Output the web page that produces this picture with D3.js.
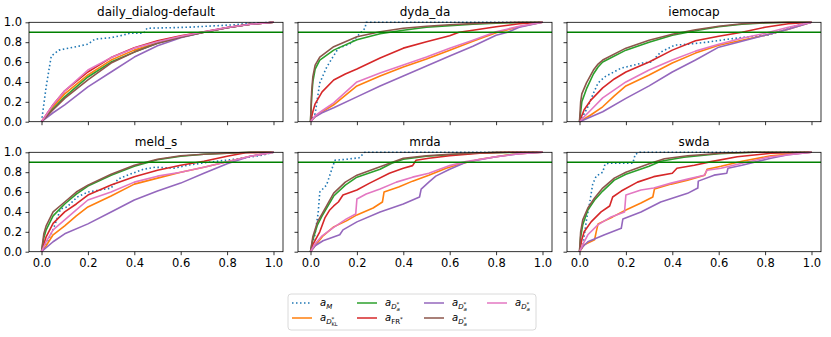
<!DOCTYPE html>
<html><head><meta charset="utf-8">
<script src="https://cdn.jsdelivr.net/npm/d3@7"></script>
<style>body{margin:0;background:#fff} text{font-family:"DejaVu Sans",sans-serif}</style>
</head><body><svg id="c" width="831" height="337"></svg>
<script>
// ---- data ----
const datasets = ["daily_dialog-default","dyda_da","iemocap","meld_s","mrda","swda"];
const xTicks = [0,0.2,0.4,0.6,0.8,1.0];
const yTicks = [0,0.2,0.4,0.6,0.8,1.0];
const threshold = 0.9;

// each series: one [x,y] list per dataset (same order as datasets)
const aM = [
 [[0,0],[0.02,0.35],[0.042,0.66],[0.075,0.72],[0.15,0.755],[0.2,0.78],[0.23,0.83],[0.3,0.845],[0.35,0.87],[0.38,0.89],[0.44,0.89],[0.455,0.94],[0.63,0.95],[0.83,0.975],[0.89,0.99],[1,1]],
 [[0,0],[0.02,0.08],[0.04,0.39],[0.07,0.55],[0.12,0.74],[0.176,0.79],[0.2,0.855],[0.235,0.94],[0.24,1],[1,1]],
 [[0,0],[0.02,0.08],[0.036,0.15],[0.057,0.27],[0.08,0.39],[0.108,0.45],[0.18,0.54],[0.2,0.55],[0.27,0.59],[0.31,0.6],[0.35,0.7],[0.41,0.77],[0.47,0.78],[0.55,0.8],[0.64,0.83],[0.71,0.85],[0.81,0.87],[0.88,0.92],[0.94,0.97],[1,1]],
 [[0,0],[0.03,0.12],[0.053,0.24],[0.082,0.43],[0.11,0.45],[0.154,0.55],[0.2,0.6],[0.3,0.64],[0.33,0.73],[0.37,0.77],[0.44,0.83],[0.49,0.85],[0.57,0.84],[0.63,0.87],[0.72,0.9],[0.83,0.93],[0.95,0.97],[1,1]],
 [[0,0],[0.019,0.17],[0.033,0.39],[0.04,0.6],[0.069,0.67],[0.105,0.92],[0.155,0.93],[0.21,0.945],[0.234,1],[1,1]],
 [[0,0],[0.014,0.05],[0.03,0.32],[0.043,0.48],[0.057,0.68],[0.072,0.76],[0.1,0.8],[0.11,0.88],[0.125,0.89],[0.23,0.89],[0.24,0.98],[0.26,1],[1,1]]
];
const aDKL = [
 [[0,0],[0.05,0.15],[0.1,0.28],[0.2,0.47],[0.3,0.62],[0.4,0.72],[0.5,0.795],[0.6,0.855],[0.7,0.9],[0.8,0.945],[0.9,0.98],[1,1]],
 [[0,0],[0.02,0.05],[0.05,0.1],[0.1,0.17],[0.2,0.36],[0.3,0.46],[0.4,0.55],[0.5,0.63],[0.6,0.72],[0.7,0.81],[0.8,0.895],[0.9,0.955],[1,1]],
 [[0,0],[0.05,0.07],[0.1,0.15],[0.15,0.26],[0.2,0.36],[0.3,0.47],[0.4,0.59],[0.5,0.69],[0.6,0.77],[0.7,0.82],[0.8,0.87],[0.9,0.93],[1,1]],
 [[0,0],[0.02,0.06],[0.05,0.17],[0.1,0.26],[0.15,0.36],[0.2,0.45],[0.3,0.56],[0.4,0.68],[0.5,0.74],[0.6,0.8],[0.7,0.85],[0.8,0.905],[0.9,0.96],[1,1]],
 [[0,0],[0.02,0.06],[0.054,0.16],[0.1,0.25],[0.155,0.31],[0.2,0.37],[0.27,0.44],[0.31,0.5],[0.317,0.6],[0.38,0.65],[0.44,0.71],[0.51,0.77],[0.585,0.84],[0.64,0.88],[0.73,0.93],[0.87,0.98],[1,1]],
 [[0,0],[0.02,0.07],[0.065,0.12],[0.072,0.2],[0.08,0.28],[0.143,0.35],[0.2,0.42],[0.265,0.49],[0.316,0.55],[0.323,0.63],[0.395,0.68],[0.466,0.72],[0.54,0.77],[0.55,0.83],[0.61,0.86],[0.7,0.91],[0.825,0.965],[1,1]]
];
const aDa1 = [
 [[0,0],[0.05,0.13],[0.1,0.25],[0.2,0.45],[0.3,0.6],[0.4,0.7],[0.5,0.79],[0.6,0.85],[0.7,0.9],[0.8,0.945],[0.9,0.98],[1,1]],
 [[0,0],[0.005,0.25],[0.01,0.4],[0.02,0.53],[0.04,0.62],[0.1,0.72],[0.2,0.825],[0.3,0.885],[0.4,0.92],[0.5,0.95],[0.6,0.967],[0.7,0.98],[0.8,0.99],[0.9,0.998],[1,1]],
 [[0,0],[0.01,0.2],[0.03,0.33],[0.06,0.48],[0.08,0.55],[0.1,0.6],[0.2,0.72],[0.3,0.8],[0.4,0.87],[0.5,0.915],[0.6,0.955],[0.7,0.98],[0.8,0.993],[0.9,1],[1,1]],
 [[0,0],[0.01,0.14],[0.02,0.22],[0.05,0.36],[0.1,0.48],[0.15,0.58],[0.2,0.66],[0.3,0.77],[0.4,0.86],[0.5,0.925],[0.6,0.96],[0.7,0.98],[0.8,0.99],[0.9,1],[1,1]],
 [[0,0],[0.01,0.12],[0.03,0.27],[0.05,0.36],[0.1,0.56],[0.15,0.67],[0.2,0.75],[0.3,0.83],[0.35,0.89],[0.4,0.93],[0.5,0.96],[0.6,0.975],[0.7,0.99],[0.8,0.997],[1,1]],
 [[0,0],[0.005,0.15],[0.014,0.27],[0.036,0.42],[0.065,0.52],[0.1,0.61],[0.15,0.72],[0.2,0.78],[0.3,0.86],[0.35,0.91],[0.45,0.95],[0.6,0.985],[0.75,1],[1,1]]
];
const aFR = [
 [[0,0],[0.05,0.17],[0.1,0.31],[0.2,0.5],[0.3,0.645],[0.4,0.745],[0.5,0.815],[0.6,0.865],[0.7,0.905],[0.8,0.948],[0.9,0.98],[1,1]],
 [[0,0],[0.01,0.1],[0.02,0.18],[0.05,0.3],[0.1,0.42],[0.15,0.48],[0.2,0.53],[0.3,0.64],[0.4,0.74],[0.5,0.805],[0.6,0.865],[0.64,0.9],[0.7,0.92],[0.8,0.956],[0.9,0.985],[1,1]],
 [[0,0],[0.02,0.12],[0.05,0.22],[0.1,0.34],[0.15,0.43],[0.2,0.5],[0.3,0.6],[0.4,0.72],[0.5,0.815],[0.6,0.86],[0.7,0.9],[0.8,0.95],[0.9,0.985],[1,1]],
 [[0,0],[0.02,0.15],[0.05,0.285],[0.1,0.4],[0.15,0.48],[0.2,0.57],[0.3,0.67],[0.4,0.755],[0.5,0.82],[0.6,0.87],[0.7,0.91],[0.8,0.96],[0.88,0.995],[1,1]],
 [[0,0],[0.01,0.07],[0.04,0.2],[0.062,0.34],[0.083,0.42],[0.1,0.46],[0.12,0.5],[0.14,0.57],[0.2,0.62],[0.255,0.69],[0.34,0.79],[0.4,0.84],[0.44,0.866],[0.455,0.92],[0.51,0.94],[0.6,0.966],[0.73,0.99],[0.85,1],[1,1]],
 [[0,0],[0.01,0.12],[0.02,0.2],[0.05,0.3],[0.093,0.4],[0.13,0.46],[0.143,0.55],[0.18,0.61],[0.25,0.7],[0.32,0.755],[0.4,0.79],[0.42,0.84],[0.495,0.87],[0.567,0.906],[0.68,0.956],[0.825,0.99],[1,1]]
];
const aDa2 = [
 [[0,0],[0.05,0.09],[0.1,0.17],[0.2,0.35],[0.3,0.5],[0.4,0.65],[0.5,0.765],[0.6,0.845],[0.7,0.9],[0.8,0.945],[0.9,0.98],[1,1]],
 [[0,0],[0.02,0.05],[0.05,0.09],[0.1,0.14],[0.2,0.25],[0.3,0.36],[0.4,0.46],[0.5,0.56],[0.6,0.66],[0.7,0.76],[0.8,0.87],[0.85,0.9],[0.9,0.95],[1,1]],
 [[0,0],[0.05,0.05],[0.1,0.1],[0.2,0.235],[0.3,0.36],[0.4,0.5],[0.5,0.62],[0.6,0.75],[0.7,0.81],[0.8,0.87],[0.9,0.93],[1,1]],
 [[0,0],[0.05,0.1],[0.1,0.18],[0.2,0.28],[0.3,0.4],[0.4,0.52],[0.5,0.61],[0.6,0.69],[0.7,0.79],[0.8,0.885],[0.9,0.96],[1,1]],
 [[0,0],[0.02,0.06],[0.054,0.11],[0.126,0.17],[0.14,0.22],[0.2,0.3],[0.3,0.4],[0.4,0.48],[0.47,0.55],[0.477,0.63],[0.51,0.7],[0.54,0.76],[0.6,0.83],[0.67,0.9],[0.8,0.955],[0.9,0.985],[1,1]],
 [[0,0],[0.01,0.04],[0.036,0.1],[0.108,0.17],[0.18,0.235],[0.187,0.33],[0.265,0.4],[0.35,0.5],[0.466,0.587],[0.51,0.64],[0.512,0.71],[0.58,0.77],[0.635,0.79],[0.64,0.84],[0.7,0.87],[0.825,0.94],[0.9,0.975],[1,1]]
];
const aDa3 = [
 [[0,0],[0.05,0.12],[0.1,0.235],[0.2,0.42],[0.3,0.59],[0.4,0.7],[0.5,0.79],[0.6,0.85],[0.7,0.9],[0.8,0.945],[0.9,0.98],[1,1]],
 [[0,0],[0.005,0.3],[0.01,0.45],[0.02,0.57],[0.04,0.65],[0.1,0.755],[0.2,0.855],[0.3,0.905],[0.4,0.94],[0.5,0.96],[0.6,0.975],[0.7,0.987],[0.8,0.995],[0.9,1],[1,1]],
 [[0,0],[0.005,0.2],[0.01,0.28],[0.03,0.39],[0.06,0.52],[0.08,0.58],[0.1,0.62],[0.2,0.74],[0.3,0.82],[0.4,0.88],[0.5,0.925],[0.6,0.96],[0.7,0.985],[0.8,0.997],[0.9,1],[1,1]],
 [[0,0],[0.01,0.18],[0.02,0.26],[0.05,0.4],[0.1,0.5],[0.15,0.6],[0.2,0.67],[0.3,0.78],[0.4,0.87],[0.5,0.93],[0.6,0.965],[0.7,0.98],[0.8,0.99],[0.9,1],[1,1]],
 [[0,0],[0.01,0.15],[0.03,0.3],[0.05,0.38],[0.1,0.59],[0.15,0.7],[0.2,0.77],[0.3,0.855],[0.4,0.94],[0.5,0.965],[0.6,0.98],[0.7,0.99],[0.8,1],[1,1]],
 [[0,0],[0.005,0.2],[0.014,0.32],[0.036,0.44],[0.065,0.54],[0.1,0.64],[0.15,0.74],[0.2,0.8],[0.3,0.885],[0.366,0.935],[0.466,0.965],[0.61,0.99],[0.75,1],[1,1]]
];
const aDa4 = [
 [[0,0],[0.05,0.17],[0.1,0.31],[0.2,0.52],[0.3,0.645],[0.4,0.74],[0.5,0.805],[0.6,0.86],[0.7,0.905],[0.8,0.948],[0.9,0.98],[1,1]],
 [[0,0],[0.02,0.06],[0.05,0.11],[0.1,0.19],[0.2,0.4],[0.3,0.49],[0.4,0.57],[0.5,0.65],[0.6,0.74],[0.7,0.82],[0.8,0.905],[0.9,0.96],[1,1]],
 [[0,0],[0.02,0.05],[0.05,0.12],[0.1,0.24],[0.2,0.4],[0.3,0.52],[0.4,0.62],[0.5,0.71],[0.6,0.78],[0.7,0.84],[0.8,0.89],[0.9,0.95],[1,1]],
 [[0,0],[0.02,0.1],[0.05,0.22],[0.1,0.32],[0.15,0.42],[0.2,0.52],[0.3,0.6],[0.4,0.7],[0.5,0.76],[0.6,0.8],[0.7,0.85],[0.8,0.905],[0.9,0.96],[1,1]],
 [[0,0],[0.02,0.08],[0.05,0.16],[0.097,0.24],[0.155,0.33],[0.195,0.38],[0.2,0.53],[0.24,0.58],[0.3,0.63],[0.37,0.7],[0.44,0.75],[0.51,0.79],[0.6,0.866],[0.67,0.906],[0.8,0.956],[0.9,0.985],[1,1]],
 [[0,0],[0.02,0.1],[0.036,0.17],[0.079,0.27],[0.136,0.35],[0.194,0.4],[0.2,0.57],[0.265,0.62],[0.32,0.64],[0.395,0.69],[0.466,0.73],[0.538,0.77],[0.55,0.82],[0.61,0.84],[0.7,0.89],[0.825,0.956],[1,1]]
];
const seriesData = [aM, aDKL, aDa1, aFR, aDa2, aDa3, aDa4];

// ---- styles ----
const colors = ["#1f77b4","#ff7f0e","#2ca02c","#d62728","#9467bd","#8c564b","#e377c2"];
const dashes = ["1.5,2.5",null,null,null,null,null,null];
// legend label parts: [text, fontSize, yOffset, italic, dx]
const legendLabels = [
  [["a",10,0,1],["M",7,2.5,1]],
  [["a",10,0,1],["D",7,2.5,1],["*",5.5,-0.5,0],["KL",5,4.5,0,-2.8]],
  [["a",10,0,1],["D",7,2.5,1],["*",5.5,-0.5,0],["a",5.5,4.5,1,-2.8]],
  [["a",10,0,1],["FR",7,2.5,0],["*",5.5,-0.5,0]],
  [["a",10,0,1],["D",7,2.5,1],["*",5.5,-0.5,0],["a",5.5,4.5,1,-2.8]],
  [["a",10,0,1],["D",7,2.5,1],["*",5.5,-0.5,0],["a",5.5,4.5,1,-2.8]],
  [["a",10,0,1],["D",7,2.5,1],["*",5.5,-0.5,0],["a",5.5,4.5,1,-2.8]]
];

const svg = d3.select("#c");
const colL = [29, 298, 567], W = 254;
const rowT = [22.3, 152.3], H = 99.4;
const fmt = d3.format(".1f");

datasets.forEach((name, i) => {
  const col = i % 3, row = Math.floor(i / 3);
  const L = colL[col], T = rowT[row];
  const x = d3.scaleLinear().domain([-0.0539, 1.041]).range([L, L + W]);
  const y = d3.scaleLinear().domain([0, 1]).range([T + H, T]);
  const g = svg.append("g");

  const line = d3.line().x(d => x(d[0])).y(d => y(d[1]));
  seriesData.forEach((s, k) => {
    g.append("path").datum(s[i]).attr("d", line)
      .attr("fill", "none").attr("stroke", colors[k]).attr("stroke-width", 1.6)
      .attr("stroke-dasharray", dashes[k]).attr("stroke-linejoin", "round");
  });
  g.append("line").attr("x1", L).attr("x2", L + W).attr("y1", y(threshold)).attr("y2", y(threshold))
    .attr("stroke", "#008000").attr("stroke-width", 1.5);

  const xa = d3.axisBottom(x).tickValues(xTicks).tickSize(3.5).tickPadding(3.5)
    .tickFormat(row === 1 ? fmt : () => "");
  const ya = d3.axisLeft(y).tickValues(yTicks).tickSize(3.5).tickPadding(3.5)
    .tickFormat(col === 0 ? fmt : () => "");
  [g.append("g").attr("transform", `translate(0,${T + H})`).call(xa),
   g.append("g").attr("transform", `translate(${L},0)`).call(ya)].forEach(a => {
    a.select(".domain").remove();
    a.selectAll("line").attr("stroke", "#000").attr("stroke-width", 0.8);
    a.selectAll("text").attr("font-size", 11.5).attr("fill", "#000").attr("font-family", "DejaVu Sans");
  });
  g.append("rect").attr("x", L).attr("y", T).attr("width", W).attr("height", H)
    .attr("fill", "none").attr("stroke", "#000").attr("stroke-width", 0.8);
  g.append("text").attr("x", L + W / 2).attr("y", T - 6).attr("text-anchor", "middle")
    .attr("font-size", 12).attr("fill", "#000").text(name);
});

// legend
const lg = svg.append("g");
lg.append("rect").attr("x", 288).attr("y", 294).attr("width", 248).attr("height", 36)
  .attr("rx", 3).attr("fill", "#fff").attr("stroke", "#d0d0d0").attr("stroke-width", 0.8);
const hx = [292, 357, 424, 487], ry = [303, 318];
legendLabels.forEach((parts, k) => {
  const c = Math.floor(k / 2), r = k % 2;
  const x0 = hx[c], yy = ry[r];
  lg.append("line").attr("x1", x0).attr("x2", x0 + 20).attr("y1", yy).attr("y2", yy)
    .attr("stroke", colors[k]).attr("stroke-width", 1.5).attr("stroke-dasharray", dashes[k]);
  const t = lg.append("text").attr("x", x0 + 28).attr("y", yy + 3).attr("fill", "#000");
  parts.forEach(p => {
    const ts = t.append("tspan").attr("y", yy + 3 + p[2]).attr("font-size", p[1])
      .attr("font-style", p[3] ? "italic" : "normal").text(p[0]);
    if (p[4]) ts.attr("dx", p[4]);
  });
});
</script></body></html>
